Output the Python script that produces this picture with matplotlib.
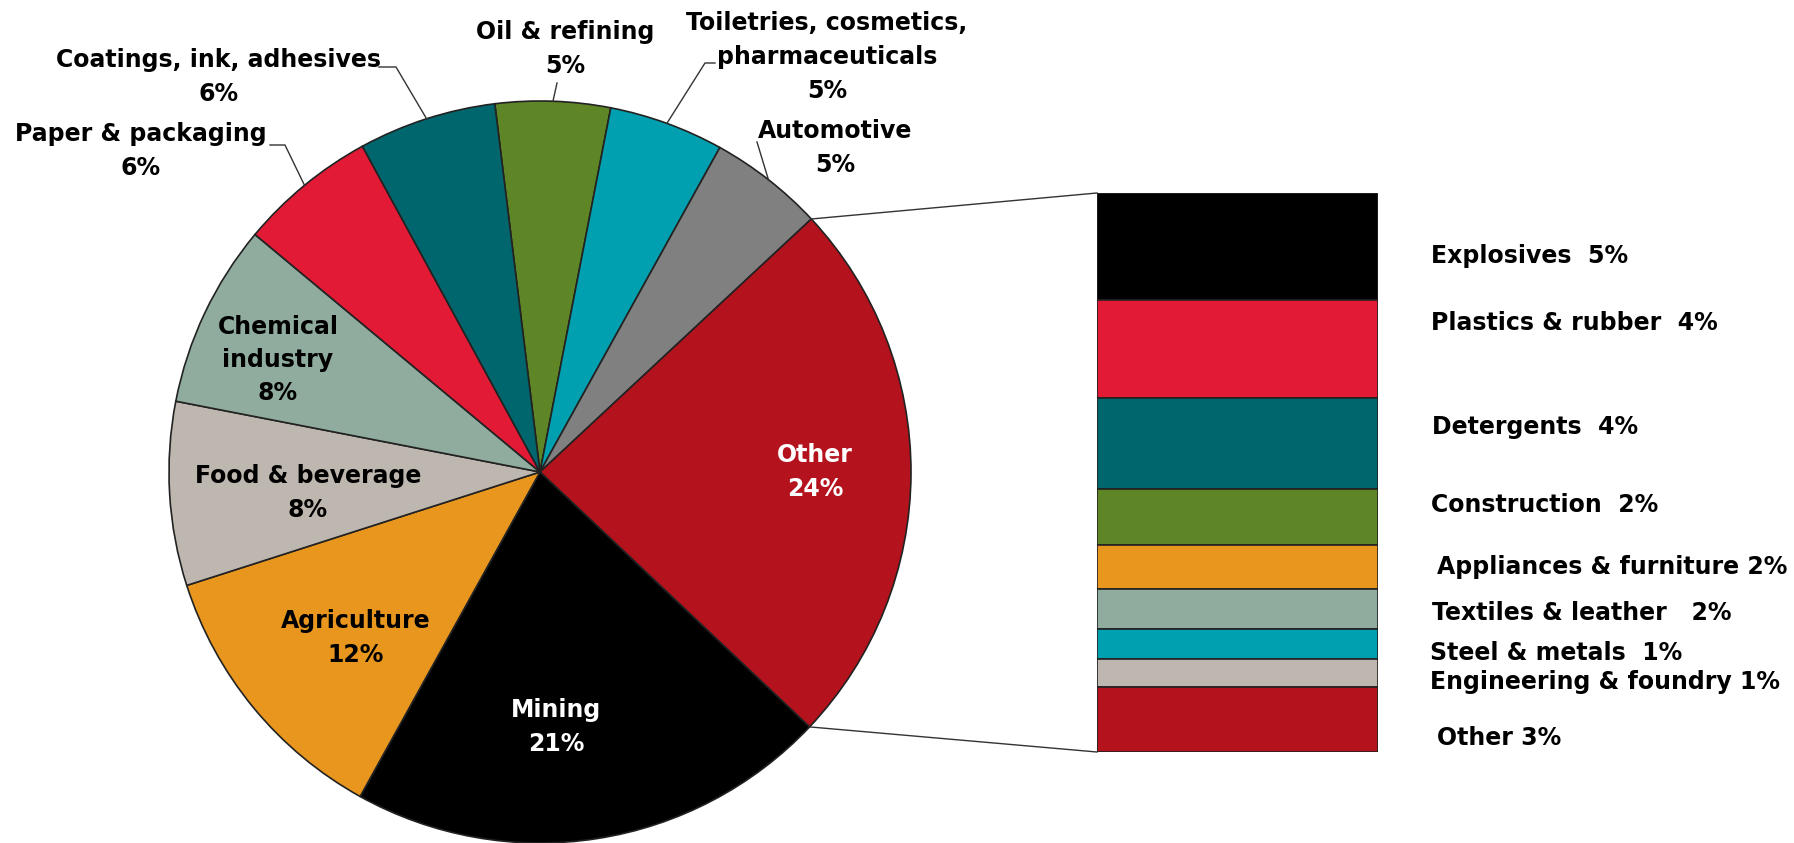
import numpy as np
import matplotlib.pyplot as plt

# main pie, clockwise from the slice straddling 12 o'clock
sectors = ["Oil & refining", "Toiletries, cosmetics,\npharmaceuticals", "Automotive",
           "Other", "Mining", "Agriculture", "Food & beverage", "Chemical\nindustry",
           "Paper & packaging", "Coatings, ink, adhesives"]
shares = [5, 5, 5, 24, 21, 12, 8, 8, 6, 6]
colors = ["#5e8526", "#00a0b0", "#808080", "#b4121c", "#000000", "#e8961e",
          "#beb7af", "#8fac9e", "#e31a35", "#00666e"]

# breakdown of "Other", top to bottom
other_names = ["Explosives  ", "Plastics & rubber  ", "Detergents  ", "Construction  ",
               "Appliances & furniture ", "Textiles & leather   ", "Steel & metals  ",
               "Engineering & foundry ", "Other "]
other_shares = [4.6, 4.2, 3.9, 2.4, 1.9, 1.7, 1.3, 1.2, 2.8]
other_colors = ["#000000", "#e31a35", "#00666e", "#5e8526", "#e8961e", "#8fac9e",
                "#00a0b0", "#beb7af", "#b4121c"]

W, H = 1794, 843
fig = plt.figure(figsize=(W / 100, H / 100), dpi=100)
ax = fig.add_axes([0, 0, 1, 1])

cx, cy, R = 540, H - 472, 371
start = 97
wedges, _ = ax.pie(shares, colors=colors, startangle=start, counterclock=False,
                   center=(cx, cy), radius=R,
                   wedgeprops=dict(edgecolor="#222222", linewidth=1.2))
ax.set_xlim(0, W)
ax.set_ylim(0, H)
ax.set_aspect("auto")
ax.axis("off")

fs = 17
font = dict(fontsize=fs, fontweight="bold", family="DejaVu Sans",
            ha="center", va="center", linespacing=1.5)

def rim(i):
    frac = (sum(shares[:i]) + shares[i] / 2) / sum(shares)
    a = np.radians(start - 360 * frac)
    return cx + R * np.cos(a), cy + R * np.sin(a)

# label positions in pixels (x, y from top)
inner = {3: (815, 472, "white"), 4: (556, 727, "white"), 5: (356, 638, "black"),
         6: (308, 493, "black"), 7: (278, 360, "black")}
outer = {0: (565, 49), 1: (827, 57), 2: (835, 148), 8: (141, 151), 9: (219, 77)}
# leader line start/elbow points (pixels from top)
leaders = {0: [(557, 83)], 1: [(715, 63), (705, 63)], 2: [(757, 142)],
           8: [(270, 145), (285, 145)], 9: [(379, 67), (396, 67)]}

for i, (x, y, c) in inner.items():
    ax.text(x, H - y, f"{sectors[i]}\n{shares[i]}%", color=c, **font)
for i, (x, y) in outer.items():
    ax.text(x, H - y, f"{sectors[i]}\n{shares[i]}%", color="black", **font)
    px = [p[0] for p in leaders[i]]
    py = [H - p[1] for p in leaders[i]]
    rx, ry = rim(i)
    ax.plot(px + [rx], py + [ry], color="#333333", lw=1.0)

# stacked column for the breakdown
bx0, bx1, by_top, by_bot = 1097, 1378, 193, 752
bax = fig.add_axes([bx0 / W, (H - by_bot) / H, (bx1 - bx0) / W, (by_bot - by_top) / H])
bottoms = np.concatenate([[0], np.cumsum(other_shares)[:-1]])
bax.bar(0, other_shares, bottom=bottoms, width=1, color=other_colors,
        edgecolor="#222222", linewidth=1.2)
bax.set_xlim(-0.5, 0.5)
bax.set_ylim(sum(other_shares), 0)
bax.axis("off")

# connector lines from the "Other" wedge edges to the column corners
i_other = sectors.index("Other")
a1 = np.radians(start - 360 * sum(shares[:i_other]) / 100)
a2 = np.radians(start - 360 * sum(shares[:i_other + 1]) / 100)
ax.plot([cx + R * np.cos(a1), bx0], [cy + R * np.sin(a1), H - by_top], color="#333333", lw=1.0)
ax.plot([cx + R * np.cos(a2), bx0], [cy + R * np.sin(a2), H - by_bot], color="#333333", lw=1.0)

label_x = [1431, 1431, 1432, 1431, 1437, 1432, 1430, 1430, 1437]
label_y = [256, 323, 427, 505, 567, 613, 653, 682, 738]
for name, v, x, y in zip(other_names, other_shares, label_x, label_y):
    ax.text(x, H - y, f"{name}{round(v)}%", fontsize=fs, fontweight="bold",
            family="DejaVu Sans", ha="left", va="center")

fig.savefig("out.png", dpi=100)
